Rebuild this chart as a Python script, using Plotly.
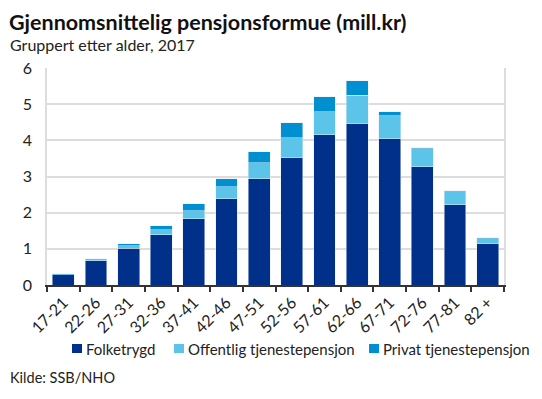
import plotly.graph_objects as go

categories = ["17-21", "22-26", "27-31", "32-36", "37-41", "42-46", "47-51",
              "52-56", "57-61", "62-66", "67-71", "72-76", "77-81", "82 +"]
folketrygd = [0.28, 0.67, 1.02, 1.39, 1.83, 2.38, 2.94, 3.52, 4.15, 4.46, 4.04, 3.27, 2.22, 1.14]
offentlig = [0.01, 0.03, 0.06, 0.14, 0.22, 0.33, 0.44, 0.55, 0.64, 0.78, 0.64, 0.50, 0.36, 0.14]
privat = [0.02, 0.03, 0.06, 0.11, 0.19, 0.23, 0.30, 0.42, 0.42, 0.41, 0.11, 0.03, 0.03, 0.03]
series_names = ["Folketrygd", "Offentlig tjenestepensjon", "Privat tjenestepensjon"]
colors = ["#00308A", "#5BC4E8", "#008FD0"]

FONT = "Lato"
TXT = "#222222"

# page pixel -> paper coordinate helpers (plot area: x 47..504, y 68..285 on page)
def px(x):
    return (x - 47) / 457

def py(y):
    return (285 - y) / 217

fig = go.Figure()
for name, vals, col in zip(series_names, [folketrygd, offentlig, privat], colors):
    fig.add_bar(x=categories, y=vals, name=name, marker_color=col, showlegend=False)

annotations = [
    dict(text="<b>Gjennomsnittelig pensjonsformue (mill.kr)</b>", x=px(8), y=py(8),
         yanchor="top", borderpad=0, font=dict(size=21.5, color="#111111")),
    dict(text="Gruppert etter alder, 2017", x=px(8), y=py(45), font=dict(size=16, color=TXT)),
    dict(text="Kilde: SSB/NHO", x=px(8), y=py(377), font=dict(size=14.5, color=TXT)),
]
shapes = []
legend_x = [72, 174, 369]
for name, col, lx in zip(series_names, colors, legend_x):
    shapes.append(dict(type="rect", xref="paper", yref="paper", x0=px(lx), x1=px(lx + 10),
                       y0=py(353), y1=py(344), fillcolor=col, line=dict(width=0)))
    annotations.append(dict(text=name, x=px(lx + 12), y=py(349), font=dict(size=15, color=TXT)))
for a in annotations:
    a.setdefault("yanchor", "middle")
    a.update(xref="paper", yref="paper", xanchor="left", showarrow=False)

fig.update_layout(
    barmode="stack",
    bargap=0.33,
    width=534, height=391,
    margin=dict(l=39, r=38, t=60, b=114),
    plot_bgcolor="white", paper_bgcolor="white",
    font=dict(family=FONT, color=TXT, size=15),
    annotations=annotations,
    shapes=shapes,
)
fig.update_yaxes(range=[0, 6], dtick=1, showgrid=True, gridcolor="#DDDDDD", gridwidth=1.5,
                 showline=True, linecolor="#DDDDDD", linewidth=1.5, mirror=True,
                 zeroline=False, ticks="", tickfont=dict(size=16), ticklabelstandoff=10)
fig.update_xaxes(showline=True, linecolor="#333333", linewidth=2, tickangle=-45,
                 ticks="outside", tickson="boundaries", ticklen=5, tickcolor="#333333",
                 tickwidth=2, tickfont=dict(size=16))

fig.write_html("out.html")
